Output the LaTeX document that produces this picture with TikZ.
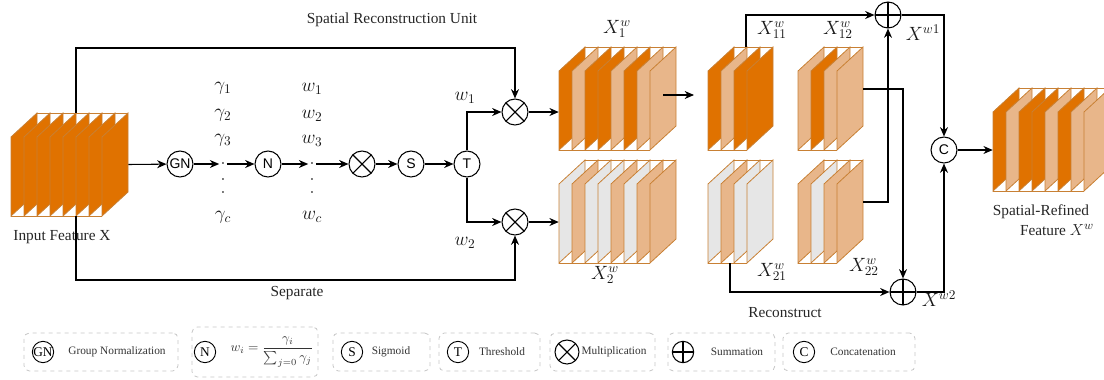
\documentclass[tikz,border=0pt]{standalone}
\usepackage{amsmath}
\usepackage{fontspec}
\setmainfont{Liberation Serif}
\setsansfont{Liberation Sans}
\usetikzlibrary{positioning}
\usetikzlibrary{calc}
\usetikzlibrary{arrows.meta}
\usetikzlibrary{fit}
\definecolor{dkor}{RGB}{224,114,0}
\definecolor{ltor}{RGB}{232,182,138}
\definecolor{gry}{RGB}{230,230,230}
\definecolor{edgeor}{RGB}{200,128,52}

\tikzset{
    conn/.style={-{Stealth[length=7pt,width=6pt]}, line width=0.8pt},
    opnode/.style={circle, draw, line width=0.8pt, minimum size=19.5pt, inner sep=0pt,
        font=\sffamily\fontsize{10.5}{11}\selectfont},
    mulnode/.style={opnode, path picture={
        \draw[line width=0.8pt] (path picture bounding box.north west) -- (path picture bounding box.south east)
            (path picture bounding box.north east) -- (path picture bounding box.south west);}},
    sumnode/.style={opnode, path picture={
        \draw[line width=0.8pt] (path picture bounding box.north) -- (path picture bounding box.south)
            (path picture bounding box.west) -- (path picture bounding box.east);}},
    lbl/.style={inner sep=1pt, text=black!85, font=\fontsize{11.5}{13}\selectfont},
    mlbl/.style={inner sep=1pt, text=black!90, font=\fontsize{14.4}{16}\selectfont},
    dotlbl/.style={inner sep=1pt, font=\fontsize{11.5}{13}\selectfont},
    legbox/.style={draw=gray!45, dashed, rounded corners=4pt, line width=0.6pt},
    legop/.style={circle, draw, line width=0.7pt, minimum size=16pt, inner sep=0pt,
        font=\fontsize{10}{11}\selectfont},
    leglbl/.style={inner sep=1pt, text=black!80, font=\fontsize{8.5}{10}\selectfont},
}

% stack of slanted feature panels: name, x, y of front top, last index, colours
\newcommand{\featstack}[5]{%
    \foreach \col [count=\k from 0] in {#5} {
        \filldraw[fill=\col, draw=edgeor, line width=0.6pt]
            (#2+13*\k, #3) -- ++(26,-24) -- ++(0,79) -- ++(-26,24) -- cycle;
    }
    \draw[edgeor, line width=0.6pt] (#2+26, #3-24) -- (#2+26+13*#4, #3-24);
    \draw[edgeor, line width=0.6pt] (#2, #3+79) -- (#2+13*#4, #3+79);
    \node[fit={(#2,#3-24) (#2+13*#4+26,#3+79)}, inner sep=0pt] (#1) {};
}

\begin{document}
\begin{tikzpicture}[x=0.75pt, y=-0.75pt]
    \clip (0,0) rectangle (1104,379);

    % Input feature -- 8 panels
    \featstack{inp}{11}{137}{7}{dkor,dkor,dkor,dkor,dkor,dkor,dkor,dkor}
    \node[lbl] (inplbl) at (62,237) {Input Feature X};

    % Weight branch
    \node[opnode] (gn) at (180,164) {GN};
    \node[dotlbl] (gdot) at (223,164) {$\cdot$};
    \node[opnode] (nn) at (268,164) {N};
    \node[dotlbl] (wdot) at (312,164) {$\cdot$};
    \node[mulnode] (mul) at (362,164) {};
    \node[opnode] (sg) at (411,164) {S};
    \node[opnode] (th) at (467,164) {T};
    \node[mulnode] (mtop) at (515,112) {};
    \node[mulnode] (mbot) at (515,222) {};

    % gamma and w columns
    \foreach \n/\yy in {1/88, 2/115, 3/140} {
        \node[mlbl] (g\n) at (223,\yy) {$\gamma_\n$};
        \node[mlbl] (w\n) at (312,\yy+1) {$w_\n$};
    }
    \foreach \yy [count=\n] in {180, 193} {
        \node[dotlbl] (gd\n) at (223,\yy) {$\cdot$};
        \node[dotlbl] (wd\n) at (312,\yy) {$\cdot$};
    }
    \node[mlbl] (gc) at (223,217) {$\gamma_c$};
    \node[mlbl] (wc) at (312,217) {$w_c$};

    \draw[conn] (inp.east) -- (gn);
    \draw[conn] (gn) -- (gdot);
    \draw[conn] (gdot) -- (nn);
    \draw[conn] (nn) -- (wdot);
    \draw[conn] (wdot) -- (mul);
    \draw[conn] (mul) -- (sg);
    \draw[conn] (sg) -- (th);
    \draw[conn] (th) |- (mtop);
    \draw[conn] (th) |- (mbot);
    \node[mlbl] (w1lbl) at (465,98) {$w_1$};
    \node[mlbl] (w2lbl) at (465,243) {$w_2$};

    % Skip lines round the unit
    \coordinate (sru) at (76,48);
    \coordinate (sep) at (76,280);
    \draw[conn] (inp.north -| sru) -- (sru) -| (mtop);
    \draw[conn] (inp.south -| sep) -- (sep) -| (mbot);
    \node[lbl] (srulbl) at (392,20) {Spatial Reconstruction Unit};
    \node[lbl] (seplbl) at (297,293) {Separate};

    % Separated features
    \featstack{xa}{559}{71}{7}{dkor,ltor,dkor,dkor,ltor,dkor,ltor,ltor}
    \featstack{xb}{559}{184}{7}{gry,ltor,gry,gry,ltor,gry,ltor,ltor}
    \draw[conn] (mtop) -- (mtop -| xa.west);
    \draw[conn] (mbot) -- (mbot -| xb.west);
    \node[mlbl] (xalbl) at (617,29) {$X_1^w$};
    \node[mlbl] (xblbl) at (605,275) {$X_2^w$};

    \coordinate (spl) at (663,95);
    \coordinate (splend) at (694,95);
    \draw[conn] (spl) -- (splend);

    % Split halves
    \featstack{xaa}{708}{71}{3}{dkor,ltor,dkor,dkor}
    \featstack{xba}{708}{184}{3}{gry,ltor,gry,gry}
    \featstack{xab}{798}{71}{3}{ltor,dkor,ltor,ltor}
    \featstack{xbb}{798}{184}{3}{ltor,gry,ltor,ltor}
    \node[mlbl] (xaalbl) at (772,30) {$X_{11}^w$};
    \node[mlbl] (xbalbl) at (772,272) {$X_{21}^w$};
    \node[mlbl] (xablbl) at (838,30) {$X_{12}^w$};
    \node[mlbl] (xbblbl) at (864,267) {$X_{22}^w$};

    % Reconstruct
    \node[sumnode] (suma) at (888,15) {};
    \node[sumnode] (sumb) at (903,292) {};
    \node[opnode] (cat) at (944,150) {C};
    \coordinate (xaaout) at (746,47);
    \coordinate (xbaout) at (730,263);
    \draw[conn] (xaaout) |- (suma);
    \draw[conn] (xbaout) |- (sumb);
    \draw[conn] (xab.east |- 0,89) -| (sumb);
    \draw[conn] (xbb.east |- 0,202) -| (suma);
    \draw[conn] (suma) -| (cat);
    \draw[conn] (sumb) -| (cat);
    \node[mlbl] (xw1) at (923,33) {$X^{w1}$};
    \node[mlbl] (xw2) at (939,299) {$X^{w2}$};
    \node[lbl] (reclbl) at (785,313) {Reconstruct};

    % Output feature
    \featstack{out}{993}{112}{7}{dkor,ltor,dkor,dkor,ltor,dkor,ltor,ltor}
    \draw[conn] (cat) -- (cat -| out.west);
    \node[lbl] (outlbl) at (1041,212) {Spatial-Refined};
    \node[lbl] (outlbl2) at (1057,230) {Feature {\fontsize{13}{14}\selectfont$X^w$}};

    % Legend
    \foreach \nm/\cx/\bw/\bh in {lga/101/154/38, lgb/255/126/50, lgc/381.5/97/38, lgd/489.5/101/38,
                                  lge/602.5/105/38, lgf/721.5/107/38, lgg/849/132/38}
        \node[legbox, minimum width={\bw*0.75pt}, minimum height={\bh*0.75pt}] (\nm) at (\cx,352) {};
    \node[legop] (lgn) at (43,352) {GN};
    \node[leglbl] (lgnt) at (117,352) {Group Normalization};
    \node[legop] (lnn) at (205,352) {N};
    \node[leglbl, font=\fontsize{10}{12}\selectfont] (lnnt) at (272,352) {$w_i=\dfrac{\gamma_i}{\sum_{j=0}\gamma_j}$};
    \node[legop] (lsg) at (352,352) {S};
    \node[leglbl] (lsgt) at (391,352) {Sigmoid};
    \node[legop] (lth) at (458,352) {T};
    \node[leglbl] (ltht) at (502,352) {Threshold};
    \node[mulnode, minimum size=18pt] (lmul) at (567,352) {};
    \node[leglbl] (lmult) at (614,352) {Multiplication};
    \node[sumnode, minimum size=16pt] (lsum) at (683,352) {};
    \node[leglbl] (lsumt) at (737,352) {Summation};
    \node[legop] (lcat) at (804,352) {C};
    \node[leglbl] (lcatt) at (863,352) {Concatenation};
\end{tikzpicture}
\end{document}
